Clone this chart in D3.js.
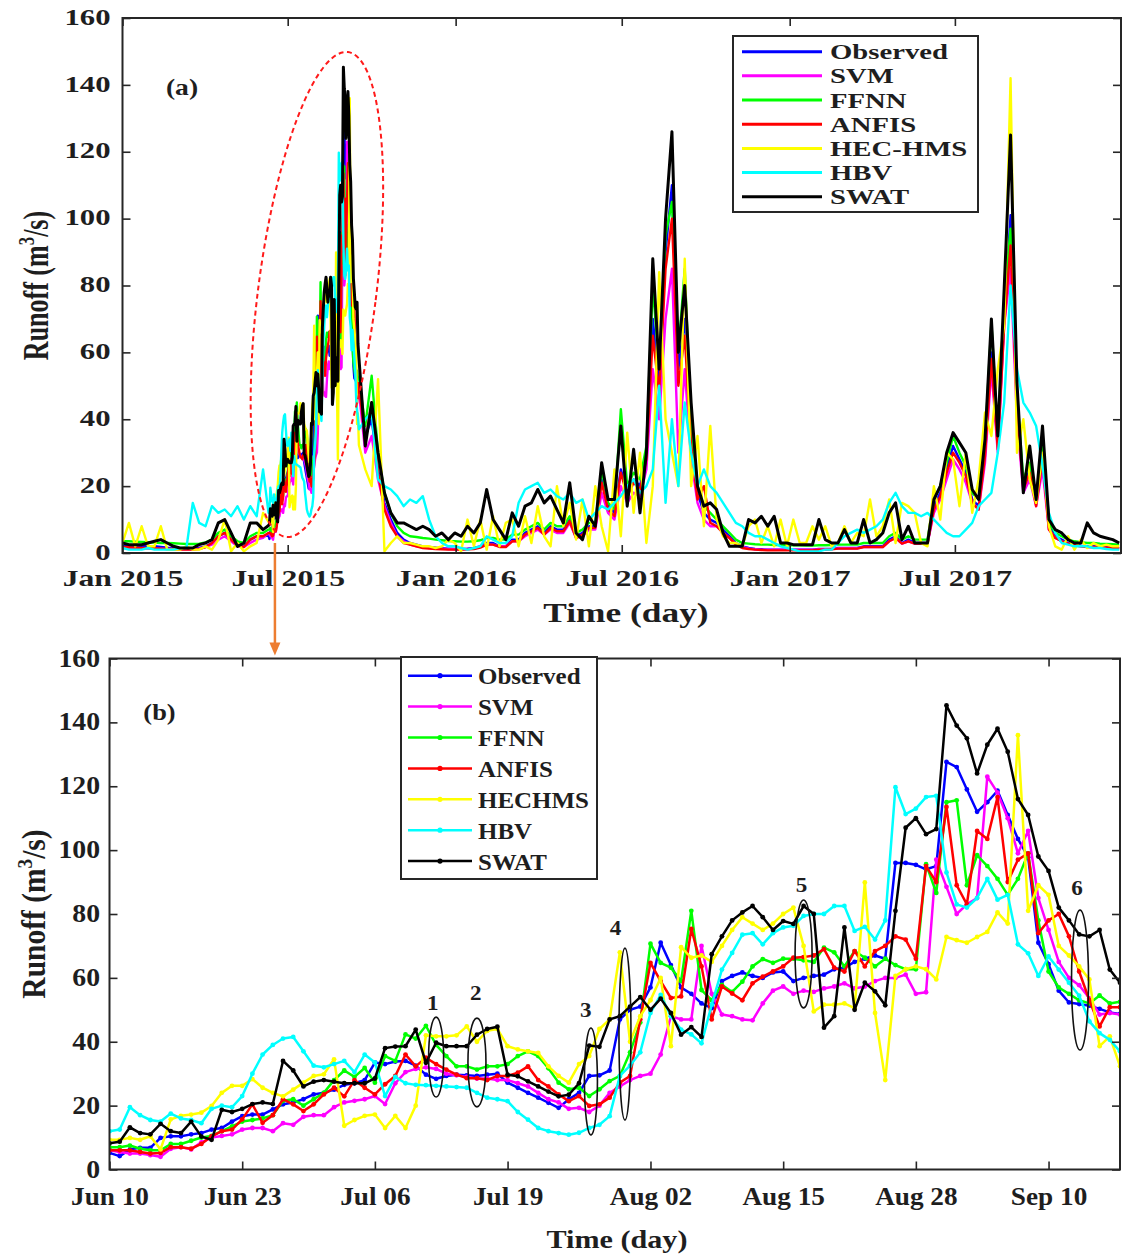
<!DOCTYPE html>
<html><head><meta charset="utf-8">
<script src="https://cdn.jsdelivr.net/npm/d3@7"></script>
<style>
body{margin:0;background:#fff}
text{font-family:"Liberation Serif","Times New Roman",Times,serif;font-weight:bold;fill:#1e1e1e}
</style>
</head><body>
<svg id="c" width="1123" height="1259"></svg>
<script>
// ---------------- DATA ----------------
const seriesNamesA = ["Observed","SVM","FFNN","ANFIS","HEC-HMS","HBV","SWAT"];
const seriesNamesB = ["Observed","SVM","FFNN","ANFIS","HECHMS","HBV","SWAT"];
const seriesColors = ["#0000ff","#ff00ff","#00ff00","#ff0000","#ffff00","#00ffff","#000000"];

// Panel (a): weekly samples from 2015-01-01 (index = week); null = covered by daily data of panel (b)
const weekStartA = "2015-01-01";
const N15 = [null,null,null,null,null,null,null,null,null,null,null,null,null,null,null];
const obsA = [2,2,2,2,2,2,1.8,1.6,1.5,1.4,1.3,1.3,1.5,2,3,5,6,4,2.5,2,4,5,5, ...N15,
 35,40,25,15,10,6,4,3,2.5,2, 1.8,1.6,1.4,1.3,1.2,1.2,1.3,1.5,2,3, 3,2,2,4,4,6,7,8,6,8,
 7,7,10,5,6,8,8,22,14,12, 25,18,22,20,30,70,50,90,110,55, 70,35,18,12,10,9,7,5,3,2,
 1.5,1.2,1.1,1,1,1,1,1,1,1, 1,1.2,1.2,1.3,1.5,1.5,1.5,1.5,2,2, 2,2,4,5,3,4,3,3,3,14,
 18,25,32,28,24,16,14,30,60,32, 70,101,45,20,25,15,30,8,5,4, 3,2.5,2.2,2,2,1.8,1.7,1.6,1.5];
const svmA = [1.5,1.5,1.5,1.4,1.4,1.3,1.3,1.2,1.2,1.2,1.1,1.1,1.3,1.8,2.5,4,5,3.5,2,1.8,3,4,4.5, ...N15,
 30,35,22,14,9,5,3.5,2.5,2,1.8, 1.5,1.4,1.3,1.2,1.1,1.1,1.2,1.3,1.8,2.5, 2.5,2,2,3.5,3.5,5,6,7,5.5,7,
 6,6,9,4.5,5,7,7,18,12,10, 20,15,18,17,25,55,40,70,85,30, 55,28,15,10,8,8,6,4.5,2.5,1.8,
 1.4,1.1,1,1,1,1,1,1,1,1, 1,1.1,1.1,1.2,1.4,1.4,1.4,1.4,1.8,1.8, 1.8,1.8,3.5,4.5,2.8,3.5,2.8,2.8,2.8,12,
 16,22,28,25,21,15,13,27,55,30, 68,85,40,18,22,14,25,7,4.5,3.5, 2.8,2.3,2,1.8,1.8,1.7,1.6,1.5,1.4];
const ffnnA = [3.5,3.5,3.4,3.3,3.2,3.1,3,3,2.9,2.8,2.7,2.7,2.8,3.2,4,6,7,5,3.5,3,5,6,6, ...N15,
 38,53,30,18,12,8,6,5,4.8,4.5, 4.3,4,3.8,3.6,3.5,3.4,3.4,3.5,3.8,4.5, 4.5,4,4,5.5,5.5,7,8,9,7,9,
 8,8,11,6,7,9,9,25,15,13, 43,20,24,22,32,80,55,95,105,60, 85,38,20,14,12,10,8,6,4,3,
 2.8,2.6,2.5,2.5,2.4,2.4,2.3,2.3,2.3,2.2, 2.2,2.3,2.3,2.4,2.5,2.5,2.5,2.5,3,3, 3,3,5,6,4,5,4,4,4,16,
 20,27,35,30,26,18,16,33,69,35, 75,97,48,22,27,17,32,9,6,5, 4,3.5,3.2,3,3,2.8,2.7,2.6,2.5];
const anfisA = [1.8,1.7,1.6,1.5,1.5,1.4,1.3,1.2,1.1,1,1,1,1.2,1.8,3,5,6,4,2.2,1.8,4,5,5, ...N15,
 33,45,24,13,8,5,3,2.5,2,1.5, 1.3,1.2,1.1,1,1,1,1.1,1.2,1.6,2.5, 2.5,1.8,1.8,3.5,3.5,5.5,6.5,7.5,5.5,7.5,
 6.5,6.5,9.5,4.5,5.5,7.5,7.5,21,13,11, 24,17,21,19,28,65,48,85,100,50, 65,32,16,20,9,8,6,4.5,2.5,1.5,
 1.2,1,0.9,0.8,0.8,0.8,0.8,0.8,0.8,0.8, 0.8,1,1,1.1,1.3,1.3,1.3,1.3,1.8,1.8, 1.8,1.8,3.5,4.5,2.8,3.5,2.8,2.8,2.8,13,
 17,24,30,27,23,15,13,29,58,31, 68,92,43,19,24,14,28,7,4.5,3.5, 2.8,2.3,2,1.8,1.8,1.7,1.6,1.5,1.4];
const hecA = [3,9,2,8,2,2,8,1,1,1,2,1,1,2,1,4,10,0.5,3,0.5,2,3,12, ...N15,
 25,20,52,0.5,3,5,3,3,2.5,2, 2,1.5,2,4,3,0.5,10,2,10,1, 11,2,9,10,2,11,3,14,5,2,
 20,8,15,4,16,2,20,8,0.5,25, 5,36,12,30,3,20,84,40,30,20, 88,20,35,8,38,10,5,3,3,2,
 8,10,3,8,2,10,2,10,3,3, 8,4,8,2,3,8,3,6,5,16, 5,8,16,3,15,14,12,3,2,20,
 10,30,28,14,30,12,22,42,35,55, 68,142,30,40,22,15,30,8,2,1, 5,1,4,1.5,3,2,2.5,2,2];
const hbvA = [1.5,1,1,1,1.5,1,1,1,1,1.5,1.5,15,9,8,14,12,13,11,14,10,14,11,25, ...N15,
 40,42,22,20,19,17,14,16,15,17, 10,5,3,2,2,1.5,1,1.5,2,5, 4,3,3,5,15,19,20,21,18,19,
 17,16,18,15,16,10,12,14,13,15, 17,20,22,18,20,25,50,15,40,20, 45,30,20,25,20,18,15,12,9,8,
 6,5,5,4,3,2,1.5,1,0.5,0.5, 0.5,0.5,1,1,3,5,6,7,6,7, 8,10,15,18,14,12,12,11,12,10,
 8,6,5,5,7,9,14,16,18,30, 45,80,55,45,42,38,26,12,6,3, 2.5,2,2,2,1.5,1.5,1.2,1,1];
const swatA = [3,2.5,2.5,2.5,3,3.5,4,3,2,1.5,1.5,1.5,2.5,3,4,9,10,6,2,3,9,9,7, ...N15,
 32,45,30,18,12,9,9,8,7,8, 7,5,6,4,6,5,8,6,9,19, 10,7,4,12,8,14,15,19,15,17,
 13,9,21,6,4,11,8,27,16,16, 38,14,31,12,30,88,55,100,126,60, 80,45,20,14,15,13,6,2,2,2,
 10,9,11,8,11,3,3,2.5,2.5,2.5, 2.5,10,4,3,3,7,3,3,10,3, 4,6,12,15,4,8,3,3,3,16,
 20,30,36,33,30,19,16,34,70,35, 79,125,51,18,32,16,38,10,7,6, 4,3,3,9,6,5,4.5,4,3];

// Panel (b): daily values from 2015-06-10 (index = day)
const dayStartB = "2015-06-10";
const obsB = [5.2,4.2,6.3,6.8,6.8,9.9,10.4,10.4,11,11.4, 12.5,13,15,16.7,17.2,17.2,18.8,20.4,21,22,
 23.5,24,25,26.5,27,28,33.5,33,33.8,34, 32.5,29.7,28.4,29.3,29.7,29.5,29.3,29.7,30,27.2,
 25.6,24,22.5,20.9,19.3,22,24,29.3,29.5,31, 47,50,51,57,71,64,57,55,52,50.5,
 59,60.6,61.7,60.6,60,61.7,62,59,60,60.6, 61,62.7,63.2,65,66,67,66,96,96,95.4,
 94,95,127.6,126,119,112,115,118.6,111,103.5, 97.8,71,64.3,56,52.3,51.8,51.3,50.3,49.2,48.7];
const svmB = [6,5.5,5,5,4.5,4,6.5,7,6.3,8.5, 10,10.5,11,12.5,13,13,12,14.5,14,16.5,
 17,17,19.5,21,21.5,22,23,20.5,27,30.5, 31.5,32,31.5,30,29.5,29,28.5,28.5,28,28,
 27,26,24,22,21,19,19.3,18,20,24, 26,28,29.3,30,36,48,47,47,70,55,
 48.5,48,47,46.7,52,56,57.3,55,56,55.6, 56.7,57.3,58.3,56.7,57.3,59,60,60,61,55,
 55.5,97,88.5,80,83,85,123,118,110,99, 106,85,75,65,60,57.7,53.6,48.5,49,48.5];
const ffnnB = [7,7,7.5,6.5,6,6,8,8,9,10, 10.5,12,13.5,15,15.5,16,17,21.5,22,20,
 22,24,28,31,29,31.8,27.2,35.5,34,42.3, 41,45,39,35.5,32.3,32.3,31.3,32.3,32.3,33,
 35.5,37,35.5,31.7,27.2,25.1,25.6,23,25.1,27.7, 29.3,36.7,46,70.7,64.7,63.2,59,81,56.2,53,
 57.8,55.6,58.8,63.6,65.9,64.7,66,66,65.5,65, 69.5,68,63.6,68.4,66.3,63.6,66,64,62.7,62.7,
 95.6,86.6,115,115.6,89,98.4,95,91,86,91, 99,78,62,57,55,53,52,54.5,52,52.5];
const anfisB = [6,6,6,5.5,5,5.2,7,7,6.5,8, 10.4,12,12.5,15.7,20.4,14.6,17,22,20.4,18.3,
 20.4,23.5,25.6,22.9,28,25.6,23.5,26.7,29.3,36, 32.3,35,33,31.3,29.7,28.6,28.6,28,29.3,29.3,
 30.3,32.3,28,26,23.5,21.4,23,19.9,20.4,22.5, 27.2,29.3,47,64.7,59,53.7,54.2,75.3,63.6,47,
 57.3,55.1,53,58.3,60.4,62,63.6,66.3,66.5,67, 69,63.2,62,68.4,63.6,68.4,70,73,72,66,
 95,90,113.5,89,83,106,103.5,116.6,90,97, 99,74,78,80,73,62,53,44.8,50.8,50.8];
const hecB = [9.3,9.3,9.9,9.3,10.4,6.3,15.7,16.8,17.2,17.8, 19.9,24,26.2,26.2,28.3,25.6,24,22.9,25,27.2,
 29.3,29.8,34.5,13.7,15.5,16.8,17.2,13,16.8,13, 20,42,41.7,41.7,42,44.8,40,43.4,44,38.6,
 37.6,37,36.5,32.3,29.3,27.2,33,35.5,44,47, 68,40,48,53,60,38.6,69.6,66.3,67,65,
 70,75,79,77,75,77,80,82,70,49.5, 51.6,51.6,52,50.5,89.9,49,28,60.6,62.7,63.6,
 62.7,59.5,72.8,71.8,71,72.8,74.4,80.5,77,136, 81,89,86,70,67,63.6,59.5,38.6,41.7,32.3];
const hbvB = [12,12.5,19.5,17,15.5,15,17.5,16,15.5,14.5, 19,20,19.5,23,30,36,39,41,41.5,37,
 32.5,32,33,34,30.5,36,33.5,23,29,27, 26.5,26.4,26.2,26,25.8,25.6,24,22.5,22,21.4,
 18,15.6,13,12,11.4,10.9,11.5,13,14,16.7, 29.3,32.5,36.7,49,54.7,48,43.8,42.3,39.5,51.6,
 62.6,67.8,73.5,74,70.5,74,75.8,76.3,79.4,80, 80,82.5,82.5,74.7,76,72,78,119.7,111.3,113,
 116.6,117,93,83,82,85,91,84.5,86,70.5, 67.7,60.6,66.7,62.6,58.5,54.4,46.4,42.7,40.6,37];
const swatB = [8.2,8.7,13.2,11.4,11,14.3,12,11.4,15,10.3, 9.3,18.7,18,19,20.5,21,20.5,34,31,26,
 27.5,28,27.5,27,27,27,28.5,38,38.5,38.6, 43.8,33.4,39.7,38.6,38.6,38.6,42.2,44,44.7,29.7,
 29.2,27.6,26,24.4,22.9,23.4,27,38.8,38.4,47, 48,51,54,50,53.5,49,42.2,44.6,41.5,67.4,
 73,78,80.5,82.5,79,75,77.8,76.9,82.5,80, 44.4,48,75.8,50,58.5,55.8,51.4,81,107,110,
 105,106.6,145.3,139,135,124,133,138,130.8,116, 111,98,93.5,82,78,73.6,73,75,62.6,58.5];

// Axes
const domainA = ["2015-01-01","2017-12-30"];
const domainB = ["2015-06-10","2015-09-17"];
const ticksA = ["2015-01-01","2015-07-01","2016-01-01","2016-07-01","2017-01-01","2017-07-01"];
const tickLabelsA = ["Jan 2015","Jul 2015","Jan 2016","Jul 2016","Jan 2017","Jul 2017"];
const ticksB = ["2015-06-10","2015-06-23","2015-07-06","2015-07-19","2015-08-02","2015-08-15","2015-08-28","2015-09-10"];
const tickLabelsB = ["Jun 10","Jun 23","Jul 06","Jul 19","Aug 02","Aug 15","Aug 28","Sep 10"];
const yTicks = [0,20,40,60,80,100,120,140,160];

// Annotations (data coordinates)
const highlightA = {top:["2015-09-05",149.8], bottom:["2015-06-29",4.8]};
const arrowA = {date:"2015-06-17", from:3};
const circlesB = [
 {label:"1", day:32,   lo:22.7, hi:47.7, rx:7.5, lx:31.7, ly:49.9},
 {label:"2", day:36,   lo:19.6, hi:47.4, rx:9,   lx:35.9, ly:53.1},
 {label:"3", day:47.2, lo:10.8, hi:44.3, rx:6.5, lx:46.7, ly:47.8},
 {label:"4", day:50.5, lo:15.5, hi:69.3, rx:6,   lx:49.6, ly:73.4},
 {label:"5", day:68,   lo:50.6, hi:84.4, rx:8.5, lx:67.8, ly:87},
 {label:"6", day:95.1, lo:37.4, hi:81.2, rx:8.5, lx:94.8, ly:85.9}
];

// ---------------- DRAWING ----------------
const parse = d3.utcParse("%Y-%m-%d");
const svg = d3.select("#c");
const AX = "#262626";

const x0A = parse(weekStartA), x0B = parse(dayStartB);
const weekDate = w => d3.utcDay.offset(x0A, 7*w);
const dayDate = i => d3.utcDay.offset(x0B, i);

const xA = d3.scaleUtc().domain(domainA.map(parse)).range([122.5,1121]);
const yA = d3.scaleLinear().domain([0,160]).range([553,18]);
const xB = d3.scaleUtc().domain(domainB.map(parse)).range([109.5,1120]);
const yB = d3.scaleLinear().domain([0,160]).range([1169.5,658.5]);

const weeklyA = [obsA,svmA,ffnnA,anfisA,hecA,hbvA,swatA];
const dailyB = [obsB,svmB,ffnnB,anfisB,hecB,hbvB,swatB];

function label(g, x, y, str, size, sx, anchor){
  return g.append("text").attr("x", x/sx).attr("y", y)
    .attr("transform", `scale(${sx},1)`).attr("text-anchor", anchor||"middle")
    .attr("font-size", size).text(str);
}
function yTitle(g, x, y, size, sx){
  const t = g.append("text").attr("transform", `translate(${x},${y}) scale(${sx},1) rotate(-90)`)
    .attr("text-anchor","middle").attr("font-size", size);
  t.append("tspan").text("Runoff (m");
  t.append("tspan").text("3").attr("font-size","0.65em").attr("dy","-0.6em");
  t.append("tspan").text("/s)").attr("dy","0.39em");
}

function frame(x, y, o){
  const g = svg.append("g");
  const [xl,xr] = x.range(), [yb,yt] = y.range();
  const bottom = g.append("g").attr("transform",`translate(0,${yb})`)
    .call(d3.axisBottom(x).tickValues(o.ticks.map(parse)).tickFormat((d,i)=>o.labels[i])
      .tickSizeInner(-8).tickSizeOuter(0).tickPadding(o.xpad));
  const top = g.append("g").attr("transform",`translate(0,${yt})`)
    .call(d3.axisTop(x).tickValues(o.ticks.map(parse)).tickFormat(()=>"").tickSizeInner(-8).tickSizeOuter(0));
  const left = g.append("g").attr("transform",`translate(${xl},0)`)
    .call(d3.axisLeft(y).tickValues(yTicks).tickSizeInner(-8).tickSizeOuter(0));
  const right = g.append("g").attr("transform",`translate(${xr},0)`)
    .call(d3.axisRight(y).tickValues(yTicks).tickFormat(()=>"").tickSizeInner(-8).tickSizeOuter(0));
  [bottom,top,left,right].forEach(a=>{
    a.attr("font-size",null).attr("font-family",null);
    a.select(".domain").remove();
    a.selectAll(".tick line").attr("stroke",AX).attr("stroke-width",1.6);
  });
  bottom.selectAll(".tick text").attr("font-size",o.xfs).attr("fill",null)
    .attr("transform",`scale(${o.xsx},1)`);
  left.selectAll(".tick text").attr("font-size",o.yfs).attr("fill",null)
    .attr("x", -o.ygap/o.ysx).attr("dy",o.ydy).attr("transform",`scale(${o.ysx},1)`);
  g.append("rect").attr("x",xl).attr("y",yt).attr("width",xr-xl).attr("height",yb-yt)
    .attr("fill","none").attr("stroke",AX).attr("stroke-width",2);
  return g;
}

function clip(id, x, y){
  const [xl,xr] = x.range(), [yb,yt] = y.range();
  svg.append("clipPath").attr("id",id).append("rect")
    .attr("x",xl).attr("y",yt-2).attr("width",xr-xl).attr("height",yb-yt+2);
}

// ----- Panel (a)
clip("clipA", xA, yA);
const linesA = svg.append("g").attr("clip-path","url(#clipA)");
const lineA = d3.line().x(d=>xA(d.d)).y(d=>yA(d.v));
weeklyA.forEach((arr,k)=>{
  const pts = [];
  arr.forEach((v,w)=>{ if(v!==null) pts.push({d:weekDate(w), v}); });
  dailyB[k].forEach((v,i)=>pts.push({d:dayDate(i), v}));
  pts.sort((a,b)=>a.d-b.d);
  linesA.append("path").datum(pts).attr("d",lineA).attr("fill","none")
    .attr("stroke",seriesColors[k]).attr("stroke-width", k===6?3:2.4)
    .attr("stroke-linejoin","round");
});
frame(xA, yA, {ticks:ticksA, labels:tickLabelsA, xpad:16, xfs:23.5, xsx:1.35, yfs:24, ysx:1.28, ygap:12, ydy:"0.26em"});

// legend (a)
const legA = svg.append("g");
legA.append("rect").attr("x",733).attr("y",36).attr("width",245).attr("height",176)
  .attr("fill","#fff").attr("stroke",AX).attr("stroke-width",2);
seriesNamesA.forEach((n,k)=>{
  const yy = 51.7 + k*24.17;
  legA.append("line").attr("x1",742).attr("x2",822).attr("y1",yy).attr("y2",yy)
    .attr("stroke",seriesColors[k]).attr("stroke-width",3);
  label(legA, 830, yy+7.5, n, 21.6, 1.33, "start");
});
label(svg, 182, 95, "(a)", 24, 1.15);
label(svg, 626, 622, "Time (day)", 27, 1.31);
yTitle(svg, 48, yA(80), 26, 1.4);

// highlight ellipse (a)
{
  const t = [xA(parse(highlightA.top[0])), yA(highlightA.top[1])];
  const b = [xA(parse(highlightA.bottom[0])), yA(highlightA.bottom[1])];
  const cx = (t[0]+b[0])/2, cy = (t[1]+b[1])/2;
  const dx = t[0]-b[0], dy = b[1]-t[1];
  const ry = Math.hypot(dx,dy)/2, ang = Math.atan2(dx,dy)*180/Math.PI;
  svg.append("ellipse").attr("cx",0).attr("cy",0).attr("rx",59).attr("ry",ry)
    .attr("transform",`translate(${cx},${cy}) rotate(${ang})`)
    .attr("fill","none").attr("stroke","#ff1a1a").attr("stroke-width",2)
    .attr("stroke-dasharray","5,3.5");
}

// ----- Panel (b)
clip("clipB", xB, yB);
const linesB = svg.append("g").attr("clip-path","url(#clipB)");
const lineB = d3.line().x((v,i)=>xB(dayDate(i))).y(v=>yB(v));
dailyB.forEach((arr,k)=>{
  linesB.append("path").datum(arr).attr("d",lineB).attr("fill","none")
    .attr("stroke",seriesColors[k]).attr("stroke-width",2.5).attr("stroke-linejoin","round");
  linesB.append("g").selectAll("circle").data(arr).join("circle")
    .attr("cx",(v,i)=>xB(dayDate(i))).attr("cy",v=>yB(v)).attr("r",2.4)
    .attr("fill",seriesColors[k]);
});
frame(xB, yB, {ticks:ticksB, labels:tickLabelsB, xpad:17.5, xfs:25, xsx:1.09, yfs:25, ysx:1.11, ygap:9.5, ydy:"0.3em"});

// circles + numbers (b)
circlesB.forEach(c=>{
  const cx = xB(d3.utcHour.offset(x0B, c.day*24));
  const top = yB(c.hi), bot = yB(c.lo);
  svg.append("ellipse").attr("cx",cx).attr("cy",(top+bot)/2).attr("rx",c.rx).attr("ry",(bot-top)/2)
    .attr("fill","none").attr("stroke","#111").attr("stroke-width",1.6);
  label(svg, xB(d3.utcHour.offset(x0B, c.lx*24)), yB(c.ly), c.label, 22, 1.05);
});

// legend (b)
const legB = svg.append("g");
legB.append("rect").attr("x",401).attr("y",657).attr("width",196).attr("height",222)
  .attr("fill","#fff").attr("stroke",AX).attr("stroke-width",2);
seriesNamesB.forEach((n,k)=>{
  const yy = 675.7 + k*30.9;
  legB.append("line").attr("x1",408).attr("x2",472).attr("y1",yy).attr("y2",yy)
    .attr("stroke",seriesColors[k]).attr("stroke-width",2.5);
  legB.append("circle").attr("cx",440).attr("cy",yy).attr("r",2.6).attr("fill",seriesColors[k]);
  label(legB, 478, yy+8.5, n, 24, 1.04, "start");
});
label(svg, 159.5, 720, "(b)", 24, 1.1);
label(svg, 617, 1248, "Time (day)", 26, 1.16);
yTitle(svg, 45, yB(80), 29.5, 1.13);

// orange arrow from (a) to (b)
{
  const ax = xA(parse(arrowA.date));
  const y1 = yA(arrowA.from), y2 = yB(160) - 3;
  svg.append("line").attr("x1",ax).attr("x2",ax).attr("y1",y1).attr("y2",y2-11)
    .attr("stroke","#ed7d31").attr("stroke-width",2.5);
  svg.append("path").attr("d",`M${ax-5.5},${y2-13}L${ax+5.5},${y2-13}L${ax},${y2}Z`).attr("fill","#ed7d31");
}
</script>
</body></html>
